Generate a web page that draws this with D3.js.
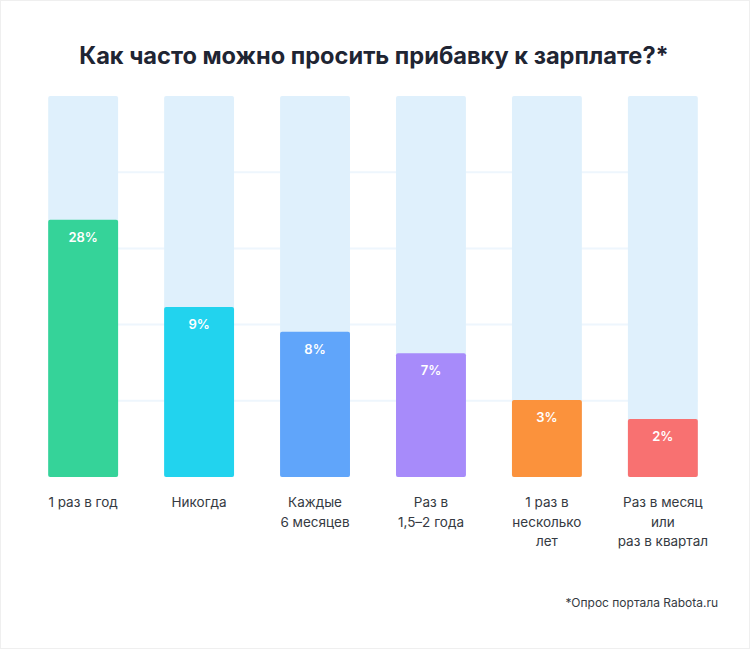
<!DOCTYPE html>
<html>
<head>
<meta charset="utf-8">
<script src="https://cdn.jsdelivr.net/npm/d3@7"></script>
<style>
  html, body { margin: 0; padding: 0; background: #fff; }
  svg { display: block; font-family: Inter, "Noto Sans", sans-serif; }
</style>
</head>
<body>
<div id="chart"></div>
<script>
// Survey answers
const categories = [
    ["1 раз в год"],
    ["Никогда"],
    ["Каждые", "6 месяцев"],
    ["Раз в", "1,5–2 года"],
    ["1 раз в", "несколько", "лет"],
    ["Раз в месяц", "или", "раз в квартал"]
];
const shares = [28, 9, 8, 7, 3, 2];
// the picture does not draw the bars to scale: how full each track is (0–100)
const barLevel = [67.5, 44.6, 38.1, 32.5, 20.2, 15.2];
const colors = ["#35d399", "#22d3ee", "#60a5fa", "#a78bfa", "#fb923c", "#f87171"];
const gridTicks = [20, 40, 60, 80];

const width = 750, height = 649;
const margin = { top: 96, left: 48, right: 52, bottom: 172 };

const svg = d3.select("#chart")
    .append("svg")
    .attr("width", width)
    .attr("height", height);

// faint frame
svg.append("rect")
    .attr("x", 0.5)
    .attr("y", 0.5)
    .attr("width", width - 1)
    .attr("height", height - 1)
    .attr("fill", "none")
    .attr("stroke", "#efefef");

const x = d3.scaleBand()
    .domain(d3.range(shares.length))
    .range([margin.left - 23, width - margin.right + 23])
    .paddingInner(0.397)
    .paddingOuter(0.2);

const y = d3.scaleLinear()
    .domain([0, 100])
    .range([height - margin.bottom, margin.top]);

// title
svg.append("text")
    .attr("x", width / 2 - 1)
    .attr("y", 64)
    .attr("text-anchor", "middle")
    .attr("font-size", 23.6)
    .attr("font-weight", 700)
    .attr("fill", "#1f2533")
    .text("Как часто можно просить прибавку к зарплате?*");

// light grid
svg.append("g")
    .selectAll("line")
    .data(gridTicks)
    .enter()
    .append("line")
    .attr("x1", margin.left)
    .attr("x2", width - margin.right)
    .attr("y1", d => y(d))
    .attr("y2", d => y(d))
    .attr("stroke", "#eef6fd")
    .attr("stroke-width", 2);

// background tracks
svg.append("g")
    .selectAll("rect")
    .data(shares)
    .enter()
    .append("rect")
    .attr("x", (d, i) => x(i))
    .attr("y", y(100))
    .attr("width", x.bandwidth())
    .attr("height", y(0) - y(100))
    .attr("rx", 2)
    .attr("fill", "#dff0fc");

// bars
svg.append("g")
    .selectAll("rect")
    .data(shares)
    .enter()
    .append("rect")
    .attr("x", (d, i) => x(i))
    .attr("y", (d, i) => y(barLevel[i]))
    .attr("width", x.bandwidth())
    .attr("height", (d, i) => y(0) - y(barLevel[i]))
    .attr("rx", 2)
    .attr("fill", (d, i) => colors[i]);

// value labels
svg.append("g")
    .selectAll("text")
    .data(shares)
    .enter()
    .append("text")
    .attr("x", (d, i) => x(i) + x.bandwidth() / 2)
    .attr("y", (d, i) => y(barLevel[i]) + 22)
    .attr("text-anchor", "middle")
    .attr("font-size", 13)
    .attr("font-weight", 600)
    .attr("fill", "#fff")
    .text(d => d + "%");

// category labels
const cat = svg.append("g")
    .selectAll("text")
    .data(categories)
    .enter()
    .append("text")
    .attr("x", (d, i) => x(i) + x.bandwidth() / 2)
    .attr("y", 507)
    .attr("text-anchor", "middle")
    .attr("font-size", 13.5)
    .attr("fill", "#353a42");

cat.selectAll("tspan")
    .data(d => d)
    .enter()
    .append("tspan")
    .attr("x", function() { return this.parentNode.getAttribute("x"); })
    .attr("dy", (d, j) => j === 0 ? 0 : 19.5)
    .text(d => d);

// footnote
svg.append("text")
    .attr("x", 718)
    .attr("y", 607)
    .attr("text-anchor", "end")
    .attr("font-size", 12)
    .attr("fill", "#353a42")
    .text("*Опрос портала Rabota.ru");
</script>
</body>
</html>
